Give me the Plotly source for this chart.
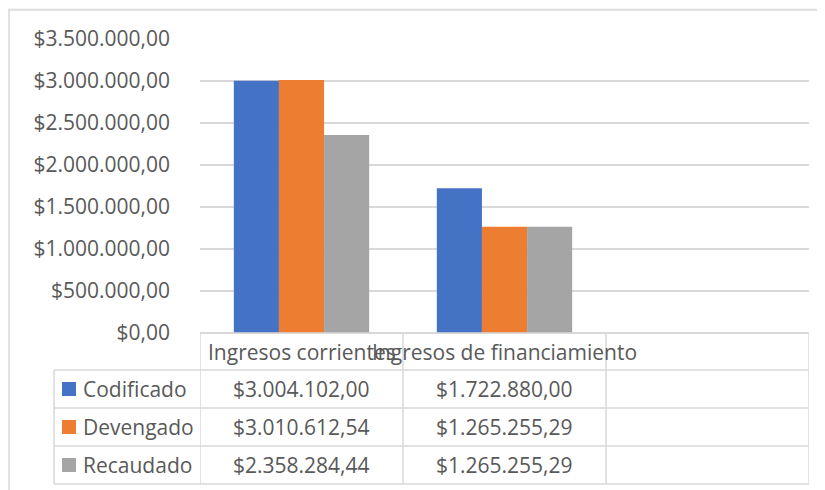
import plotly.graph_objects as go

categories = ["Ingresos corrientes", "Ingresos de financiamiento"]
series_names = ["Codificado", "Devengado", "Recaudado"]
codificado = [3004102.00, 1722880.00]
devengado = [3010612.54, 1265255.29]
recaudado = [2358284.44, 1265255.29]
series_values = [codificado, devengado, recaudado]
colors = ["#4472C4", "#ED7D31", "#A5A5A5"]
y_ticks = [0, 500000, 1000000, 1500000, 2000000, 2500000, 3000000, 3500000]

O = 8  # page body margin offset
W, H = 825 - O, 490 - O
PL, PR, PT, PB = 200 - O, 809 - O, 39 - O, 333 - O  # plot area in figure pixels
FONT = "Open Sans"
FS = 21
TXT = "#595959"
GRID = "#D9D9D9"


def fmt(v):
    s = f"{v:,.2f}"
    s = s.replace(",", "X").replace(".", ",").replace("X", ".")
    return "$" + s


def px(x):  # screen pixel -> paper
    return (x - O - PL) / (PR - PL)


def py(y):
    return (PB - (y - O)) / (PB - PT)


fig = go.Figure()
for name, vals, col in zip(series_names, series_values, colors):
    fig.add_trace(go.Bar(x=list(range(len(categories))), y=vals, name=name,
                         marker=dict(color=col, line=dict(width=0))))

shapes = []
# white chart box
shapes.append(dict(type="rect", xref="paper", yref="paper", x0=px(9), x1=px(900), y0=py(10), y1=py(600),
                   fillcolor="white", line=dict(color=GRID, width=1.5), layer="below"))

row_lines = [333, 370, 408, 446, 484]
col_x = [-0.5, 0.5, 1.5, 2.5]
for i, yy in enumerate(row_lines):
    x0 = px(54) if i >= 1 else px(200)
    shapes.append(dict(type="line", xref="paper", yref="paper", x0=x0, x1=1, y0=py(yy), y1=py(yy),
                       line=dict(color=GRID, width=1.5)))
for cx in col_x:
    shapes.append(dict(type="line", xref="x", yref="paper", x0=cx, x1=cx, y0=py(333), y1=py(484),
                       line=dict(color=GRID, width=1.5)))
shapes.append(dict(type="line", xref="paper", yref="paper", x0=px(54), x1=px(54), y0=py(370), y1=py(484),
                   line=dict(color=GRID, width=1.5)))

annotations = []
for i, c in enumerate(categories):
    annotations.append(dict(x=i, y=py(352), xref="x", yref="paper", text=c, showarrow=False,
                            xanchor="center", yanchor="middle", font=dict(family=FONT, size=FS, color=TXT)))
row_centers = [389, 427, 465]
for r, (name, vals, col) in enumerate(zip(series_names, series_values, colors)):
    yc = row_centers[r]
    shapes.append(dict(type="rect", xref="paper", yref="paper", x0=px(62), x1=px(76),
                       y0=py(yc - 7), y1=py(yc + 7), fillcolor=col, line=dict(width=0)))
    annotations.append(dict(x=px(81), y=py(yc), xref="paper", yref="paper", text=name, showarrow=False,
                            xanchor="left", yanchor="middle", font=dict(family=FONT, size=FS, color=TXT)))
    for i, v in enumerate(vals):
        annotations.append(dict(x=i, y=py(yc), xref="x", yref="paper", text=fmt(v), showarrow=False,
                                xanchor="center", yanchor="middle", font=dict(family=FONT, size=FS, color=TXT)))

fig.update_layout(
    width=W, height=H,
    margin=dict(l=PL, r=W - PR, t=PT, b=H - PB, pad=0),
    paper_bgcolor="#F3F4F6",
    plot_bgcolor="rgba(0,0,0,0)",
    separators=",.",
    barmode="group",
    bargap=1.5 / 4.5,
    bargroupgap=0,
    showlegend=False,
    shapes=shapes,
    annotations=annotations,
    font=dict(family=FONT, size=FS, color=TXT),
)
fig.update_xaxes(range=[-0.5, 2.5], showticklabels=False, showgrid=False, zeroline=False,
                 showline=False, ticks="", fixedrange=True)
fig.update_yaxes(range=[0, 3500000], tickvals=y_ticks, tickformat="$,.2f", showgrid=True,
                 gridcolor=GRID, gridwidth=1.5, zeroline=True, zerolinecolor=GRID, zerolinewidth=1.5,
                 showline=False, ticks="", ticklabelstandoff=29,
                 tickfont=dict(family=FONT, size=FS, color=TXT))

fig.write_html("out.html")
